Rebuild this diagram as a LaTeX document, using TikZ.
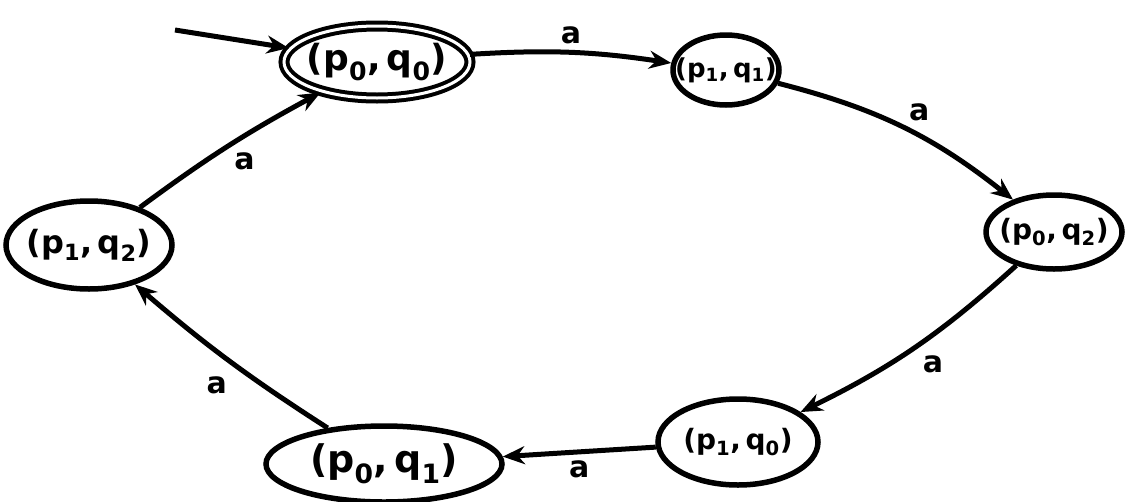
\documentclass[tikz,border=0pt]{standalone}
\usepackage{fontspec}
\setmainfont{DejaVu Sans}
\usetikzlibrary{shapes.geometric,arrows.meta}
\newcommand{\st}[2]{(p\textsubscript{#1},\,q\textsubscript{#2})}
\tikzset{
  state/.style={ellipse, draw=black, line width=5.5pt, inner sep=-30pt},
  accepting/.style={double=white, double distance=3pt, line width=4pt},
  trans/.style={line width=5pt, -{Stealth[length=22pt,width=18pt]}},
  lbl/.style={font=\bfseries\fontsize{30}{32}\selectfont, inner sep=2pt},
  fs/.style={font=\bfseries\fontsize{#1}{#1}\selectfont}
}
\begin{document}
\begin{tikzpicture}[x=1pt,y=-1pt]
\useasboundingbox (0,0) rectangle (1132,501);
\fill[white] (0,0) rectangle (1132,501);
\node[state, accepting, fs=36, minimum width=186pt, minimum height=72pt] (s00) at (377,62) {\st00};
\node[state, fs=26, minimum width=106pt, minimum height=70pt] (s11) at (726,70) {\st11};
\node[state, fs=28, minimum width=136pt, minimum height=74pt] (s02) at (1054,232) {\st02};
\node[state, fs=28, minimum width=160pt, minimum height=86pt] (s10) at (738,442) {\st10};
\node[state, fs=38, minimum width=236pt, minimum height=76pt] (s01) at (384,464) {\st01};
\node[state, fs=32, minimum width=166pt, minimum height=88pt] (s12) at (89,245) {\st12};
\coordinate (start) at (175,30);
\draw[trans] (start) -- (s00);
\draw[trans] (s00) to[bend left=6] node[lbl, above=4pt] {a} (s11);
\draw[trans] (s11) to[bend left=12] node[lbl, above right=2pt] {a} (s02);
\draw[trans] (s02) to[bend left=8] node[lbl, below right=4pt] {a} (s10);
\draw[trans] (s10) -- node[lbl, below=4pt] {a} (s01);
\draw[trans] (s01) to[bend left=4] node[lbl, below left=6pt, pos=0.45] {a} (s12);
\draw[trans] (s12) to[bend left=4] node[lbl, below right=2pt] {a} (s00);
\end{tikzpicture}
\end{document}
